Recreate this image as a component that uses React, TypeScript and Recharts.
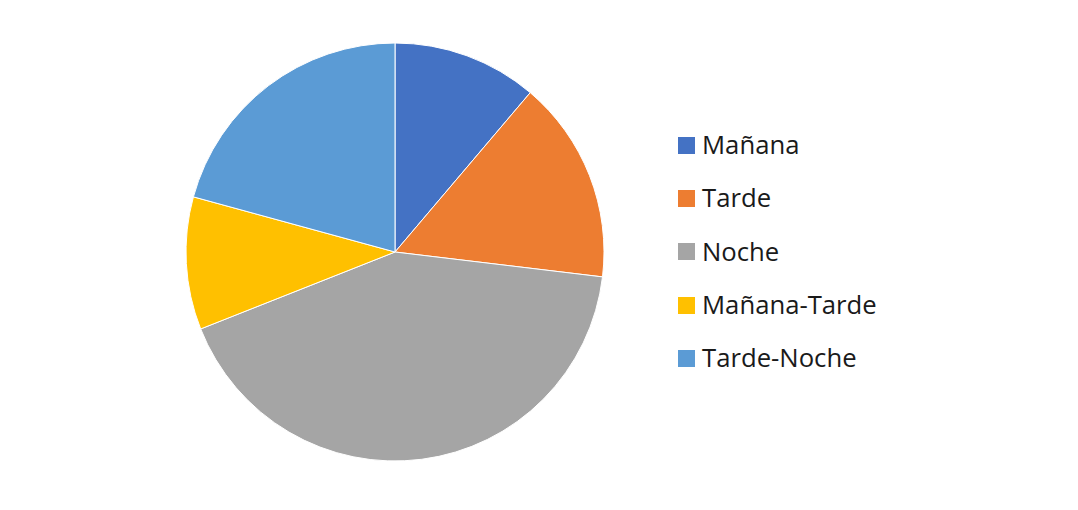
import React from "react";
import { PieChart, Pie, Cell, Legend } from "recharts";

const categories = ["Mañana", "Tarde", "Noche", "Mañana-Tarde", "Tarde-Noche"];
const values = [11.2, 15.7, 42.1, 10.25, 20.75];
const colors = ["#4472C4", "#ED7D31", "#A5A5A5", "#FFC000", "#5B9BD5"];

const data = categories.map((name, i) => ({ name, value: values[i] }));

const renderLegend = () => (
  <div style={{ fontFamily: "'Open Sans', sans-serif", fontSize: 25.7, color: "#1a1a1a" }}>
    {categories.map((c, i) => (
      <div key={c} style={{ display: "flex", alignItems: "center", height: 53.3 }}>
        <div style={{ width: 17, height: 17, background: colors[i], marginRight: 7 }} />
        <span style={{ lineHeight: "30px" }}>{c}</span>
      </div>
    ))}
  </div>
);

export default function App() {
  return (
    <div style={{ position: "absolute", left: 0, top: 0, width: 1078, height: 510, background: "#fff" }}>
      <PieChart width={1078} height={510} margin={{ top: 0, right: 0, bottom: 0, left: 0 }}>
        <Pie
          data={data}
          dataKey="value"
          nameKey="name"
          cx={395}
          cy={252}
          outerRadius={209}
          startAngle={90}
          endAngle={-270}
          stroke="#ffffff"
          strokeWidth={1}
          isAnimationActive={false}
        >
          {data.map((d, i) => (
            <Cell key={d.name} fill={colors[i]} />
          ))}
        </Pie>
        <Legend
          content={renderLegend}
          layout="vertical"
          wrapperStyle={{ position: "absolute", left: 678, top: 118.5, width: 300 }}
        />
      </PieChart>
    </div>
  );
}
